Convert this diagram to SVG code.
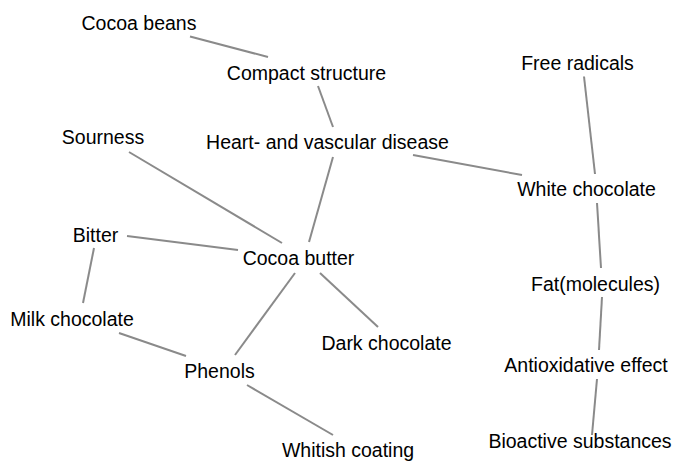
<svg xmlns="http://www.w3.org/2000/svg" width="674" height="461" viewBox="0 0 674 461">
<style>
text{font-family:"Liberation Sans",Arial,sans-serif;font-size:19.5px;fill:#000;text-anchor:middle}
.c line{stroke:#8a8a8a;stroke-width:2;stroke-linecap:butt}
</style>
<rect width="674" height="461" fill="#fff"/>
<g class="c" id="connectors">
<line x1="190" y1="36.5" x2="268" y2="57"/>
<line x1="318" y1="86" x2="333" y2="127"/>
<line x1="333" y1="157" x2="309" y2="242"/>
<line x1="413" y1="155" x2="522" y2="175"/>
<line x1="129" y1="152" x2="282" y2="243"/>
<line x1="127" y1="236" x2="238" y2="250"/>
<line x1="94" y1="248" x2="83" y2="303"/>
<line x1="295" y1="273" x2="235" y2="355"/>
<line x1="320" y1="273" x2="378" y2="327"/>
<line x1="119" y1="333" x2="186" y2="356"/>
<line x1="247" y1="385" x2="333" y2="435"/>
<line x1="584" y1="76.5" x2="595" y2="174"/>
<line x1="597" y1="203" x2="601" y2="268"/>
<line x1="602" y1="297" x2="599" y2="350"/>
<line x1="597" y1="379" x2="592" y2="435"/>
</g>
<g id="cocoa-beans"><text x="139" y="30">Cocoa beans</text></g>
<g id="compact-structure"><text x="306.5" y="80">Compact structure</text></g>
<g id="sourness"><text x="103" y="144">Sourness</text></g>
<g id="heart-vascular"><text x="327.5" y="149">Heart- and vascular disease</text></g>
<g id="free-radicals"><text x="577.5" y="70">Free radicals</text></g>
<g id="white-chocolate"><text x="586.5" y="196">White chocolate</text></g>
<g id="fat-molecules"><text x="595.5" y="291">Fat(molecules)</text></g>
<g id="antioxidative-effect"><text x="586" y="371.5">Antioxidative effect</text></g>
<g id="bioactive-substances"><text x="580" y="447.5">Bioactive substances</text></g>
<g id="bitter"><text x="95.5" y="241.5">Bitter</text></g>
<g id="cocoa-butter"><text x="298.5" y="265">Cocoa butter</text></g>
<g id="milk-chocolate"><text x="72" y="326">Milk chocolate</text></g>
<g id="dark-chocolate"><text x="386.5" y="350">Dark chocolate</text></g>
<g id="phenols"><text x="219.5" y="377.5">Phenols</text></g>
<g id="whitish-coating"><text x="348" y="456.5">Whitish coating</text></g>
</svg>
